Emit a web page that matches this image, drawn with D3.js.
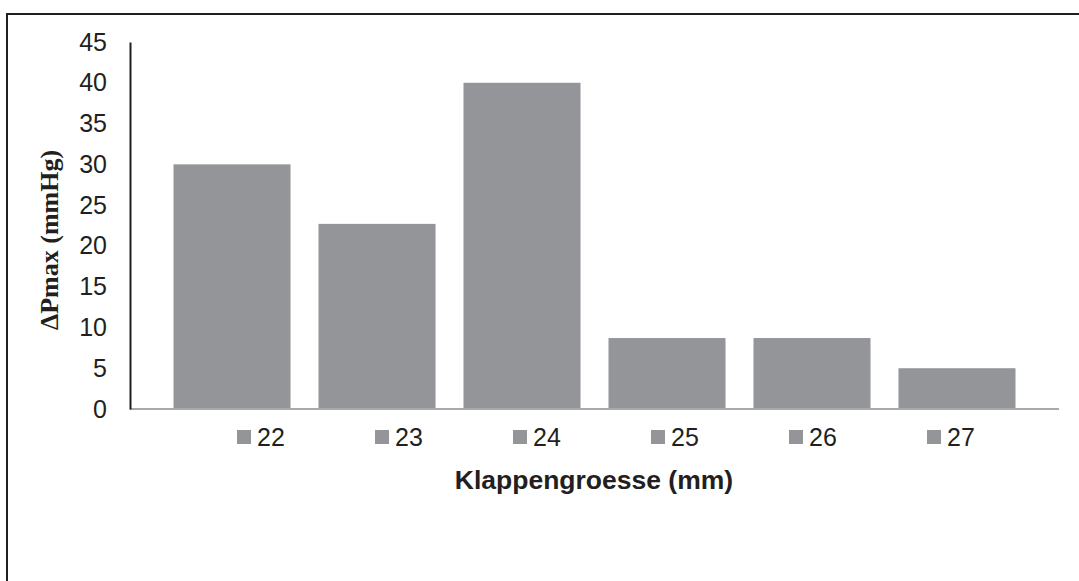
<!DOCTYPE html>
<html>
<head>
<meta charset="utf-8">
<script src="https://cdn.jsdelivr.net/npm/d3@7/dist/d3.min.js"></script>
<style>
  html, body { margin: 0; padding: 0; background: #fff; }
  svg { display: block; }
</style>
</head>
<body>
<svg id="chart" width="1079" height="581"></svg>
<script>
// ---- data ----
const categories = ["22", "23", "24", "25", "26", "27"];
const values = [30, 22.7, 40, 8.7, 8.7, 5];
const yTicks = [0, 5, 10, 15, 20, 25, 30, 35, 40, 45];
const xTitle = "Klappengroesse (mm)";
const yTitle = "ΔPmax (mmHg)";

const svg = d3.select("#chart");
const W = 1079, H = 581;
const barColor = "#939598";

// outer frame (extends beyond right/bottom edges)
svg.append("rect")
  .attr("x", 7).attr("y", 14)
  .attr("width", W + 20).attr("height", H + 20)
  .attr("fill", "#fff")
  .attr("stroke", "#231f20").attr("stroke-width", 2);

const plotLeft = 130, plotRight = 1059, plotTop = 42, plotBottom = 409;

const x = d3.scaleBand()
  .domain(categories)
  .range([plotLeft, plotRight])
  .paddingInner(0.193)
  .paddingOuter(0.3);

const y = d3.scaleLinear().domain([0, 45]).range([plotBottom, plotTop]);

// bars
svg.append("g").selectAll("rect")
  .data(categories)
  .join("rect")
  .attr("x", d => x(d))
  .attr("width", x.bandwidth())
  .attr("y", (d, i) => y(values[i]))
  .attr("height", (d, i) => y(0) - y(values[i]))
  .attr("fill", barColor);

// x axis line
svg.append("line")
  .attr("x1", plotLeft).attr("x2", plotRight)
  .attr("y1", y(0)).attr("y2", y(0))
  .attr("stroke", "#a7a9ac").attr("stroke-width", 2);

// y axis
const yAxis = d3.axisLeft(y).tickValues(yTicks).tickSize(0).tickPadding(23);
const gy = svg.append("g")
  .attr("transform", `translate(${plotLeft},0)`)
  .call(yAxis);
gy.select(".domain").attr("stroke", "#231f20").attr("stroke-width", 2);
gy.selectAll("text")
  .attr("font-family", "Liberation Sans, Arial, sans-serif")
  .attr("font-size", 25)
  .attr("fill", "#231f20");

// legend
const legendStartX = 237, legendStep = 138, legendY = 437;
const lg = svg.append("g").selectAll("g")
  .data(categories)
  .join("g")
  .attr("transform", (d, i) => `translate(${legendStartX + i * legendStep},${legendY})`);
lg.append("rect")
  .attr("x", 0).attr("y", -7)
  .attr("width", 14).attr("height", 14)
  .attr("fill", barColor);
lg.append("text")
  .attr("x", 20).attr("y", 0)
  .attr("dy", "0.35em")
  .attr("font-family", "Liberation Sans, Arial, sans-serif")
  .attr("font-size", 25)
  .attr("fill", "#231f20")
  .text(d => d);

// x title
svg.append("text")
  .attr("x", 594).attr("y", 489)
  .attr("text-anchor", "middle")
  .attr("font-family", "Liberation Sans, Arial, sans-serif")
  .attr("font-weight", "bold")
  .attr("font-size", 26.5)
  .attr("fill", "#231f20")
  .text(xTitle);

// y title
svg.append("text")
  .attr("transform", "translate(58,240) rotate(-90)")
  .attr("text-anchor", "middle")
  .attr("font-family", "Liberation Serif, 'Times New Roman', serif")
  .attr("font-weight", "bold")
  .attr("font-size", 26)
  .attr("fill", "#231f20")
  .text(yTitle);
</script>
</body>
</html>
